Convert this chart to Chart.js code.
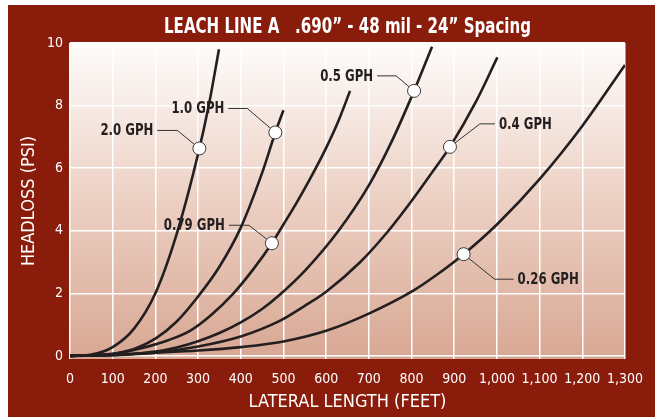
<!DOCTYPE html>
<html>
<head>
<meta charset="utf-8">
<script src="https://cdn.jsdelivr.net/npm/chart.js@4/dist/chart.umd.min.js"></script>
<style>
  html, body { margin: 0; padding: 0; background: #fff; }
  #wrap { position: absolute; left: 8px; top: 5px; width: 647px; height: 412px; background: #8a1c0c; }
</style>
</head>
<body>
<div id="wrap"><canvas id="myChart"></canvas></div>
<script>
// values (lateral length in feet, headloss in psi)
const chartTitle = 'LEACH LINE A   .690\u201D - 48 mil - 24\u201D Spacing';
const seriesLabels = ['2.0 GPH', '1.0 GPH', '0.79 GPH', '0.5 GPH', '0.4 GPH', '0.26 GPH'];

const len20 = [0, 50, 100, 150, 200, 250, 300, 325, 349];
const psi20 = [0, 0.04, 0.28, 0.87, 2.0, 3.9, 6.45, 8.0, 9.8];

const len10 = [0, 100, 150, 200, 250, 300, 350, 400, 450, 481, 500];
const psi10 = [0, 0.07, 0.22, 0.55, 1.1, 1.9, 2.85, 4.1, 5.85, 7.14, 7.85];

const len079 = [0, 100, 174, 230, 282, 330, 383, 430, 473, 500, 531, 560, 600, 630, 656];
const psi079 = [0, 0.06, 0.27, 0.5, 0.81, 1.3, 2.0, 2.78, 3.6, 4.2, 4.9, 5.6, 6.65, 7.55, 8.47];

const len05 = [0, 100, 200, 250, 300, 350, 400, 450, 490, 550, 629, 700, 750, 806, 848];
const psi05 = [0, 0.02, 0.14, 0.27, 0.47, 0.73, 1.07, 1.5, 1.94, 2.72, 4.0, 5.45, 6.75, 8.47, 9.88];

const len04 = [0, 100, 200, 300, 400, 490, 550, 600, 680, 746, 800, 850, 890, 950, 1001];
const psi04 = [0, 0.02, 0.1, 0.3, 0.62, 1.11, 1.6, 2.05, 3.0, 4.0, 4.95, 5.9, 6.68, 8.1, 9.54];

const len026 = [0, 100, 200, 300, 400, 500, 600, 700, 800, 860, 922, 1000, 1100, 1200, 1300];
const psi026 = [0, 0.04, 0.1, 0.17, 0.28, 0.46, 0.8, 1.35, 2.05, 2.6, 3.25, 4.2, 5.65, 7.35, 9.3];

// labelled points on each curve
const markerLen = [303, 481, 473, 806, 890, 922];
const markerPsi = [6.63, 7.14, 3.6, 8.47, 6.68, 3.25];

const xTickValues = [0, 100, 200, 300, 400, 500, 600, 700, 800, 900, 1000, 1100, 1200, 1300];
const xTickLabels = ['0', '100', '200', '300', '400', '500', '600', '700', '800', '900', '1,000', '1,100', '1,200', '1,300'];
const yTickValues = [0, 2, 4, 6, 8, 10];

const FONT = "'Liberation Sans Narrow', 'DejaVu Sans Condensed', 'Roboto Condensed', 'Liberation Sans', sans-serif";
const INK = '#231f20';

// leader line shapes, pixel offsets from the marker
const leaders = [
  { elbow: [-22, -18], end: [-42, -18] },
  { elbow: [-28, -24], end: [-47, -24] },
  { elbow: [-23, -18], end: [-43, -18] },
  { elbow: [-18, -15], end: [-37, -15] },
  { elbow: [30, -23], end: [45, -23] },
  { elbow: [31, 25], end: [50, 25] },
];

const toPoints = (xs, ys) => xs.map((x, i) => ({ x: x, y: ys[i] }));
const curves = [
  [len20, psi20], [len10, psi10], [len079, psi079],
  [len05, psi05], [len04, psi04], [len026, psi026],
];

// narrow text like the condensed face of the original
function squeezedText(ctx, text, x, y, sx) {
  ctx.save();
  ctx.translate(x, y);
  ctx.scale(sx, 1);
  ctx.fillText(text, 0, 0);
  ctx.restore();
}

const plotBackground = {
  id: 'plotBackground',
  beforeDraw(chart) {
    const { ctx, chartArea: a } = chart;
    const g = ctx.createLinearGradient(0, a.top, 0, a.bottom);
    g.addColorStop(0, '#fefcfb');
    g.addColorStop(0.5, '#ecd0c3');
    g.addColorStop(1, '#d8a793');
    ctx.save();
    ctx.fillStyle = g;
    ctx.fillRect(a.left, a.top, a.right - a.left, a.bottom - a.top);
    ctx.restore();
  },
  afterDraw(chart) {
    const { ctx, chartArea: a } = chart;
    ctx.save();
    ctx.fillStyle = '#fff';
    ctx.font = 'bold 22px ' + FONT;
    ctx.textAlign = 'center';
    ctx.textBaseline = 'middle';
    squeezedText(ctx, chartTitle, (a.left + a.right) / 2, 22, 0.76);
    ctx.restore();
  }
};

const callouts = {
  id: 'callouts',
  beforeDatasetsDraw(chart) {
    const { ctx, scales } = chart;
    ctx.save();
    ctx.strokeStyle = '#333';
    ctx.lineWidth = 1;
    ctx.fillStyle = INK;
    ctx.font = 'bold 15px ' + FONT;
    ctx.textBaseline = 'middle';
    markerLen.forEach((len, i) => {
      const px = scales.x.getPixelForValue(len);
      const py = scales.y.getPixelForValue(markerPsi[i]);
      const l = leaders[i];
      ctx.beginPath();
      ctx.moveTo(px, py);
      ctx.lineTo(px + l.elbow[0], py + l.elbow[1]);
      ctx.lineTo(px + l.end[0], py + l.end[1]);
      ctx.stroke();
      const left = l.end[0] < 0;
      ctx.textAlign = left ? 'right' : 'left';
      squeezedText(ctx, seriesLabels[i], px + l.end[0] + (left ? -4 : 4), py + l.end[1] + 1, 0.87);
    });
    ctx.restore();
  }
};

const datasets = [{
  type: 'scatter',
  label: 'markers',
  data: toPoints(markerLen, markerPsi),
  order: 0,
  pointRadius: 6.5,
  pointBackgroundColor: '#fff',
  pointBorderColor: '#3a3a3a',
  pointBorderWidth: 1,
}];
curves.forEach((c, i) => {
  datasets.push({
    type: 'line',
    label: seriesLabels[i],
    data: toPoints(c[0], c[1]),
    order: 1,
    borderColor: INK,
    borderWidth: 2.6,
    pointRadius: 0,
    cubicInterpolationMode: 'monotone',
    fill: false,
  });
});

new Chart(document.getElementById('myChart'), {
  data: { datasets: datasets },
  options: {
    responsive: true,
    maintainAspectRatio: false,
    animation: false,
    devicePixelRatio: 1,
    layout: { padding: { right: 27, bottom: 0, left: 0, top: 38 } },
    plugins: {
      legend: { display: false },
      tooltip: { enabled: false },
      title: { display: false },
    },
    scales: {
      x: {
        type: 'linear',
        min: 0,
        max: 1300,
        afterBuildTicks: (s) => { s.ticks = xTickValues.map(v => ({ value: v })); },
        afterFit: (s) => { s.height = 58; },
        ticks: {
          color: '#fff',
          padding: 12,
          maxRotation: 0,
          autoSkip: false,
          font: { family: FONT, size: 14 },
          callback: (v) => xTickLabels[xTickValues.indexOf(v)],
        },
        grid: { color: '#fff', lineWidth: 1.5, drawTicks: false },
        border: { display: false },
        title: {
          display: true,
          text: 'LATERAL LENGTH (FEET)',
          color: '#fff',
          font: { family: FONT, size: 18 },
          padding: { top: 0, bottom: 4 },
        },
      },
      y: {
        type: 'linear',
        min: -0.1,
        max: 10,
        afterBuildTicks: (s) => { s.ticks = yTickValues.map(v => ({ value: v })); },
        afterFit: (s) => { s.width = 62; },
        ticks: {
          color: '#fff',
          padding: 7,
          font: { family: FONT, size: 14 },
        },
        grid: { color: '#fff', lineWidth: 1.5, drawTicks: false },
        border: { display: false },
        title: {
          display: true,
          text: 'HEADLOSS (PSI)',
          color: '#fff',
          font: { family: FONT, size: 18 },
          padding: { top: 11, bottom: 0 },
        },
      },
    },
  },
  plugins: [plotBackground, callouts],
});
</script>
</body>
</html>
